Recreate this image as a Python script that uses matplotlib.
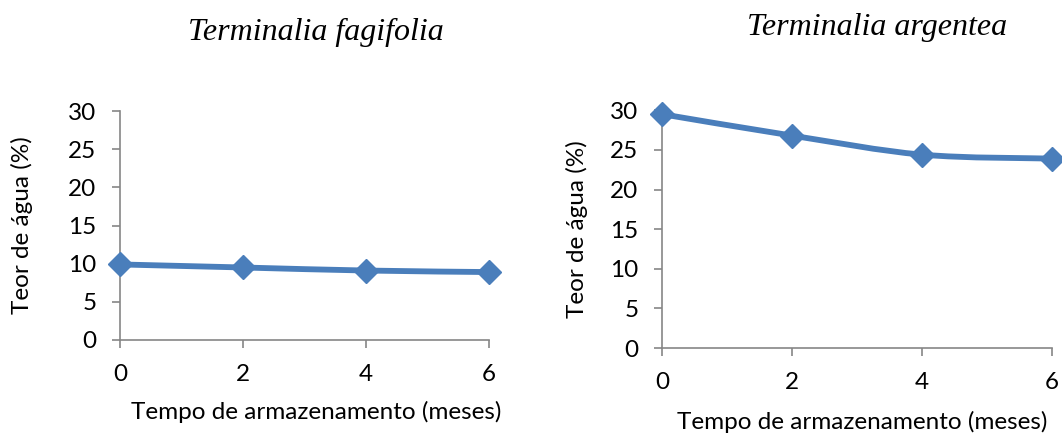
import matplotlib

matplotlib.use("Agg")
import matplotlib.pyplot as plt
import numpy as np
from matplotlib.path import Path
from matplotlib.patches import PathPatch

# Teor de água ao longo do armazenamento
meses = [0, 2, 4, 6]
fagifolia = [9.9, 9.5, 9.1, 8.9]
argentea = [29.5, 26.8, 24.4, 23.9]
yticks = [0, 5, 10, 15, 20, 25, 30]

AZUL = "#4A7EBB"
CINZA = "#868686"
FONTE = ["Lato", "DejaVu Sans"]
TAM = 17.5


def curva_suave(x, y, tension=0.5):
    """Bezier estilo Excel (linha suavizada) passando pelos pontos."""
    x = np.asarray(x, float)
    y = np.asarray(y, float)
    verts = [(x[0], y[0])]
    codes = [Path.MOVETO]
    n = len(x)
    for i in range(n - 1):
        x0, y0 = (x[i - 1], y[i - 1]) if i > 0 else (x[i], y[i])
        x3, y3 = (x[i + 2], y[i + 2]) if i + 2 < n else (x[i + 1], y[i + 1])
        c1 = (x[i] + (x[i + 1] - x0) * tension / 3, y[i] + (y[i + 1] - y0) * tension / 3)
        c2 = (x[i + 1] - (x3 - x[i]) * tension / 3, y[i + 1] - (y3 - y[i]) * tension / 3)
        verts += [c1, c2, (x[i + 1], y[i + 1])]
        codes += [Path.CURVE4] * 3
    return Path(verts, codes)


def painel(ax, y, titulo, titulo_pos, xlab_pos, ylab_x):
    ax.add_patch(PathPatch(curva_suave(meses, y), fill=False, edgecolor=AZUL,
                           lw=4.2, capstyle="round", joinstyle="round",
                           clip_on=False, zorder=3))
    ax.plot(meses, y, linestyle="none", marker="D", ms=12, color=AZUL,
            clip_on=False, zorder=4)
    ax.set_xlim(0, 6)
    ax.set_ylim(0, 30)
    ax.set_xticks(meses)
    ax.set_yticks(yticks)
    for s in ("top", "right"):
        ax.spines[s].set_visible(False)
    for s in ("left", "bottom"):
        ax.spines[s].set_color(CINZA)
        ax.spines[s].set_linewidth(1.2)
    ax.tick_params(axis="both", colors=CINZA, length=6, width=1.2,
                   labelcolor="black", labelsize=TAM)
    ax.tick_params(axis="x", pad=11)
    ax.tick_params(axis="y", pad=11)
    for lbl in ax.get_xticklabels() + ax.get_yticklabels():
        lbl.set_family(FONTE)
    ax.set_xlabel("Tempo de armazenamento (meses)", family=FONTE, fontsize=TAM)
    ax.set_ylabel("Teor de água (%)", family=FONTE, fontsize=TAM)
    # posições dos rótulos em pixels da figura
    inv = ax.transAxes.inverted()
    ax.xaxis.set_label_coords(*inv.transform((xlab_pos[0], 434 - xlab_pos[1])))
    ax.yaxis.set_label_coords(inv.transform((ylab_x, 0))[0], 0.5)
    ax.xaxis.label.set_va("center")
    ax.yaxis.label.set_va("center")
    fig.text(titulo_pos[0] / 1062, 1 - titulo_pos[1] / 434, titulo,
             ha="center", va="center", family="Liberation Serif",
             style="italic", fontsize=23)


fig = plt.figure(figsize=(10.62, 4.34), dpi=100)
ax1 = fig.add_axes([0.113, 0.2166, 0.3475, 0.5276])
ax2 = fig.add_axes([0.6234, 0.198, 0.3672, 0.548])

painel(ax1, fagifolia, "Terminalia fagifolia", (316, 32), (316, 412), 22)
painel(ax2, argentea, "Terminalia argentea", (877, 27), (862, 422), 577)

fig.savefig("out.png", dpi=100)
